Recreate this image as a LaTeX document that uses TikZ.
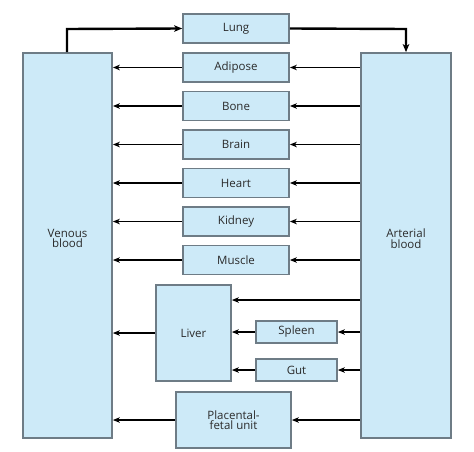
\documentclass[tikz,border=0pt]{standalone}
\usepackage{fontspec}
\setmainfont{Open Sans}
\usetikzlibrary{arrows.meta,calc}
\definecolor{boxfill}{HTML}{CDEAF8}
\definecolor{boxedge}{HTML}{6E7C86}
\definecolor{txt}{HTML}{2A2A2A}
\begin{document}
\begin{tikzpicture}[x=1pt,y=-1pt,
  organ/.style={draw=boxedge,line width=1.7pt,fill=boxfill,inner sep=0pt,align=center,
    text=txt,font=\fontsize{11.5}{12.5}\selectfont},
  big/.style={organ,minimum height=385pt,text depth=14pt},
  flow/.style={line width=1.3pt,-{Stealth[length=7pt,width=5.5pt,inset=2pt]}},
  thick flow/.style={line width=2.4pt,-{Stealth[length=8pt,width=6.5pt,inset=2pt]}}]
\fill[white] (0,0) rectangle (474,452);
\node[big,minimum width=89pt] (ven) at (67.5,245.5) {Venous\\[-2pt]blood};
\node[big,minimum width=90pt] (art) at (406,245.5) {Arterial\\[-2pt]blood};
\node[organ,minimum width=106pt,minimum height=29pt] (lung) at (236,28.5) {Lung};
\node[organ,minimum width=106pt,minimum height=29pt] (adi) at (236,67.5) {Adipose};
\node[organ,minimum width=106pt,minimum height=29pt] (bone) at (236,106) {Bone};
\node[organ,minimum width=106pt,minimum height=29pt] (brain) at (236,144.5) {Brain};
\node[organ,minimum width=106pt,minimum height=29pt] (heart) at (236,183) {Heart};
\node[organ,minimum width=106pt,minimum height=29pt] (kid) at (236,221.5) {Kidney};
\node[organ,minimum width=106pt,minimum height=29pt] (mus) at (236,260) {Muscle};
\node[organ,minimum width=75pt,minimum height=96pt] (liver) at (193.5,333) {Liver};
\node[organ,minimum width=81pt,minimum height=22pt] (spl) at (296.5,332) {Spleen};
\node[organ,minimum width=81pt,minimum height=22pt] (gut) at (296.5,370) {Gut};
\node[organ,minimum width=115pt,minimum height=56pt] (plac) at (233.5,420) {Placental-\\[-2pt]fetal unit};
% lung circuit
\coordinate (vtop) at (67,29);
\coordinate (atop) at (406,29);
\draw[thick flow] (ven.north -| vtop) -- (vtop) -- (lung.west);
\draw[thick flow] (lung.east) -- (atop) -- (art.north -| atop);
% organs
\foreach \o in {adi,bone,brain,heart,kid,mus}{
  \draw[flow] (art.west |- \o) -- (\o.east);
  \draw[flow] (\o.west) -- (ven.east |- \o);
}
\coordinate (lin) at (300,300);
\draw[flow] (art.west |- lin) -- (liver.east |- lin);
\draw[flow] (art.west |- spl) -- (spl.east);
\draw[flow] (spl.west) -- (liver.east |- spl);
\draw[flow] (art.west |- gut) -- (gut.east);
\draw[flow] (gut.west) -- (liver.east |- gut);
\draw[flow] (liver.west) -- (ven.east |- liver);
\draw[flow] (art.west |- plac) -- (plac.east);
\draw[flow] (plac.west) -- (ven.east |- plac);
\end{tikzpicture}
\end{document}
